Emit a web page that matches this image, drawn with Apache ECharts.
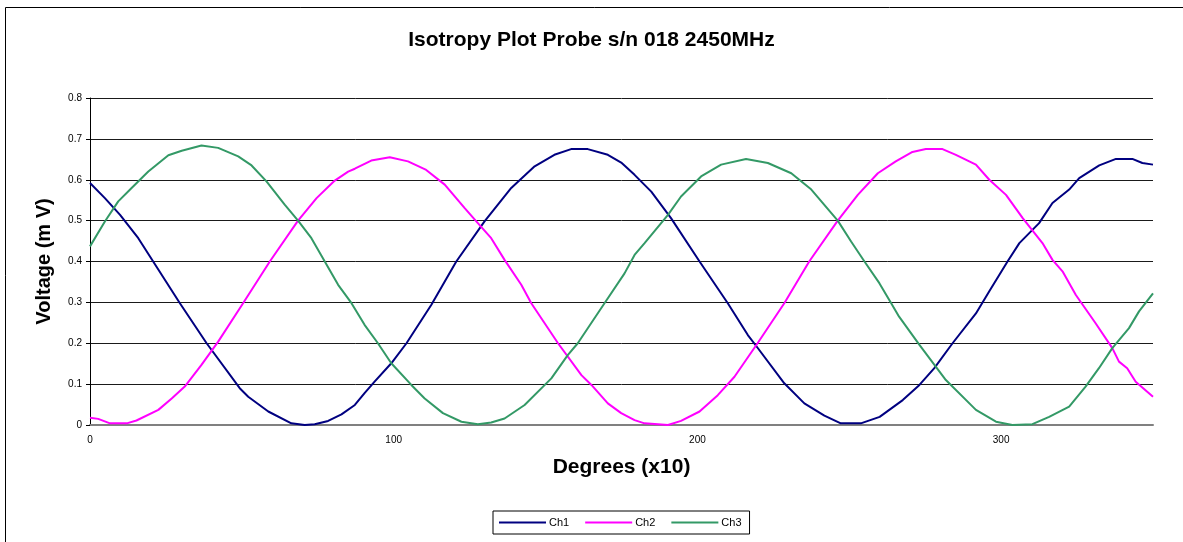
<!DOCTYPE html>
<html>
<head>
<meta charset="utf-8">
<script src="https://cdn.jsdelivr.net/npm/echarts@6/dist/echarts.min.js"></script>
<style>
html,body{margin:0;padding:0;background:#fff;}
#c{width:1183px;height:542px;}
</style>
</head>
<body>
<div id="c"></div>
<script>
const titleText = 'Isotropy Plot Probe s/n 018 2450MHz';
const xName = 'Degrees (x10)';
const yName = 'Voltage (m V)';
const seriesNames = ['Ch1', 'Ch2', 'Ch3'];
const seriesColors = ['#000080', '#FF00FF', '#339966'];
const xTicks = [0, 100, 200, 300];
const yTicks = [0, 0.1, 0.2, 0.3, 0.4, 0.5, 0.6, 0.7, 0.8];

const ch1 = [[0,0.592],[4.9,0.555],[9.9,0.514],[15.9,0.457],[20.8,0.4],[29.6,0.298],[38.4,0.2],[49.3,0.09],[52.1,0.069],[58.7,0.033],[66.3,0.004],[70.7,0],[74,0.002],[78.4,0.01],[82.8,0.026],[87.2,0.049],[90.4,0.078],[93.7,0.106],[99.2,0.151],[104.2,0.2],[112.4,0.294],[120.6,0.4],[129.9,0.498],[138.7,0.58],[146.4,0.633],[152.9,0.661],[158.4,0.675],[163.9,0.675],[170.5,0.661],[174.9,0.642],[179.3,0.612],[184.8,0.571],[191.3,0.506],[200.7,0.4],[210,0.298],[216.6,0.22],[219.8,0.189],[228.6,0.102],[235.2,0.053],[241.8,0.023],[247.2,0.004],[253.8,0.004],[260,0.02],[267.6,0.061],[273.1,0.098],[278,0.139],[284,0.2],[291.7,0.273],[296.1,0.327],[302.1,0.4],[306,0.445],[312.5,0.494],[316.9,0.543],[322.4,0.576],[325.7,0.604],[332.3,0.635],[337.8,0.651],[343.2,0.651],[346.5,0.641],[350,0.637]];

const ch2 = [[0,0.018],[2.7,0.015],[6.6,0.004],[12.1,0.004],[15.3,0.011],[22.5,0.037],[26.9,0.065],[31.2,0.094],[36.7,0.147],[42.2,0.204],[50.4,0.298],[59.2,0.4],[68.5,0.5],[74.6,0.555],[80.6,0.598],[85,0.62],[87.2,0.627],[92.6,0.647],[98.7,0.655],[104.7,0.645],[110.7,0.624],[116.8,0.588],[123.3,0.531],[127.7,0.494],[132.1,0.457],[136.5,0.404],[142,0.343],[145.3,0.298],[154.1,0.2],[161.8,0.122],[165.1,0.098],[170.5,0.053],[174.9,0.029],[179.3,0.012],[182.6,0.004],[190.3,0],[194.6,0.01],[200.7,0.033],[206.7,0.073],[212.2,0.118],[219.8,0.2],[228.6,0.298],[236.8,0.4],[246.2,0.5],[252.8,0.563],[259.4,0.616],[265.3,0.645],[270.8,0.668],[275.2,0.675],[280.7,0.675],[285.1,0.661],[291.7,0.637],[296.1,0.6],[301.6,0.563],[307.1,0.506],[313.6,0.445],[316.9,0.404],[320.2,0.376],[324.6,0.318],[331.1,0.249],[336.6,0.188],[338.8,0.155],[341.5,0.139],[344.3,0.106],[350,0.069]];

const ch3 = [[0,0.437],[4.9,0.498],[9.3,0.547],[13.7,0.58],[19.2,0.62],[25.8,0.66],[30.2,0.671],[36.7,0.684],[42.2,0.678],[48.8,0.657],[53.2,0.635],[58.1,0.596],[64.1,0.539],[68.5,0.5],[72.9,0.457],[77.3,0.4],[81.7,0.343],[86.1,0.298],[90.4,0.245],[94.8,0.2],[99.2,0.151],[105.8,0.098],[110.2,0.065],[116.2,0.029],[122.3,0.008],[127.7,0.002],[132.1,0.006],[136.5,0.016],[143.1,0.049],[151.9,0.114],[157.3,0.171],[160.6,0.2],[169.4,0.298],[176,0.371],[179.3,0.416],[182.6,0.445],[190.3,0.514],[194.6,0.559],[201.2,0.608],[207.8,0.637],[216,0.651],[223.2,0.641],[230.9,0.616],[237.5,0.576],[246.2,0.5],[250.6,0.449],[255,0.4],[259.9,0.347],[263.8,0.298],[266.4,0.265],[273.1,0.196],[281.8,0.11],[291.7,0.037],[298.3,0.008],[303.7,0],[310.3,0.002],[315.8,0.02],[322.4,0.045],[327.8,0.094],[332.2,0.139],[336.6,0.188],[342.1,0.237],[345.4,0.278],[350,0.322]];

const seriesData = [ch1, ch2, ch3];
const FONT = '"Liberation Sans", Arial, sans-serif';

const chart = echarts.init(document.getElementById('c'), null, {renderer: 'canvas'});
chart.setOption({
  backgroundColor: '#ffffff',
  animation: false,
  graphic: [{
    type: 'rect', silent: true,
    shape: {x: 5.5, y: 7.5, width: 1300, height: 700},
    style: {fill: 'none', stroke: '#000', lineWidth: 1}
  }],
  title: {
    text: titleText, left: 'center', top: 25,
    textStyle: {fontFamily: FONT, fontSize: 21, fontWeight: 'bold', color: '#000'}
  },
  legend: {
    data: seriesNames, left: 493, top: 511,
    padding: [6, 8, 6, 6], borderColor: '#000', borderWidth: 1,
    icon: 'rect', itemWidth: 47, itemHeight: 2, itemGap: 16,
    textStyle: {fontFamily: FONT, fontSize: 11, color: '#000', padding: [0, 0, 0, -2]}
  },
  grid: {left: 90, right: 30, top: 98, bottom: 117, containLabel: false},
  xAxis: {
    type: 'value', min: 0, max: 350, interval: 100,
    name: xName, nameLocation: 'middle', nameGap: 32,
    nameTextStyle: {fontFamily: FONT, fontSize: 21, fontWeight: 'bold', color: '#000'},
    axisLine: {show: true, lineStyle: {color: '#808080', width: 2}},
    axisTick: {show: false},
    splitLine: {show: false},
    axisLabel: {fontFamily: FONT, fontSize: 10, color: '#000', margin: 10, showMaxLabel: false,
      formatter: v => xTicks.indexOf(v) >= 0 ? String(v) : ''}
  },
  yAxis: {
    type: 'value', min: 0, max: 0.8, interval: 0.1,
    name: yName, nameLocation: 'middle', nameGap: 36, nameRotate: 90,
    nameTextStyle: {fontFamily: FONT, fontSize: 20, fontWeight: 'bold', color: '#000'},
    axisLine: {show: true, onZero: false, lineStyle: {color: '#000', width: 1}},
    axisTick: {show: true, length: 4, inside: false, lineStyle: {color: '#000'}},
    splitLine: {show: true, lineStyle: {color: '#1a1a1a', width: 1}},
    axisLabel: {fontFamily: FONT, fontSize: 10, color: '#000', margin: 8,
      formatter: v => { const t = yTicks.find(k => Math.abs(k - v) < 1e-9); return t === undefined ? '' : String(t); }}
  },
  series: seriesNames.map((n, i) => ({
    name: n, type: 'line', data: seriesData[i],
    showSymbol: false, symbol: 'none', smooth: false,
    lineStyle: {color: seriesColors[i], width: 2},
    itemStyle: {color: seriesColors[i]},
    z: 3
  }))
});
</script>
</body>
</html>
